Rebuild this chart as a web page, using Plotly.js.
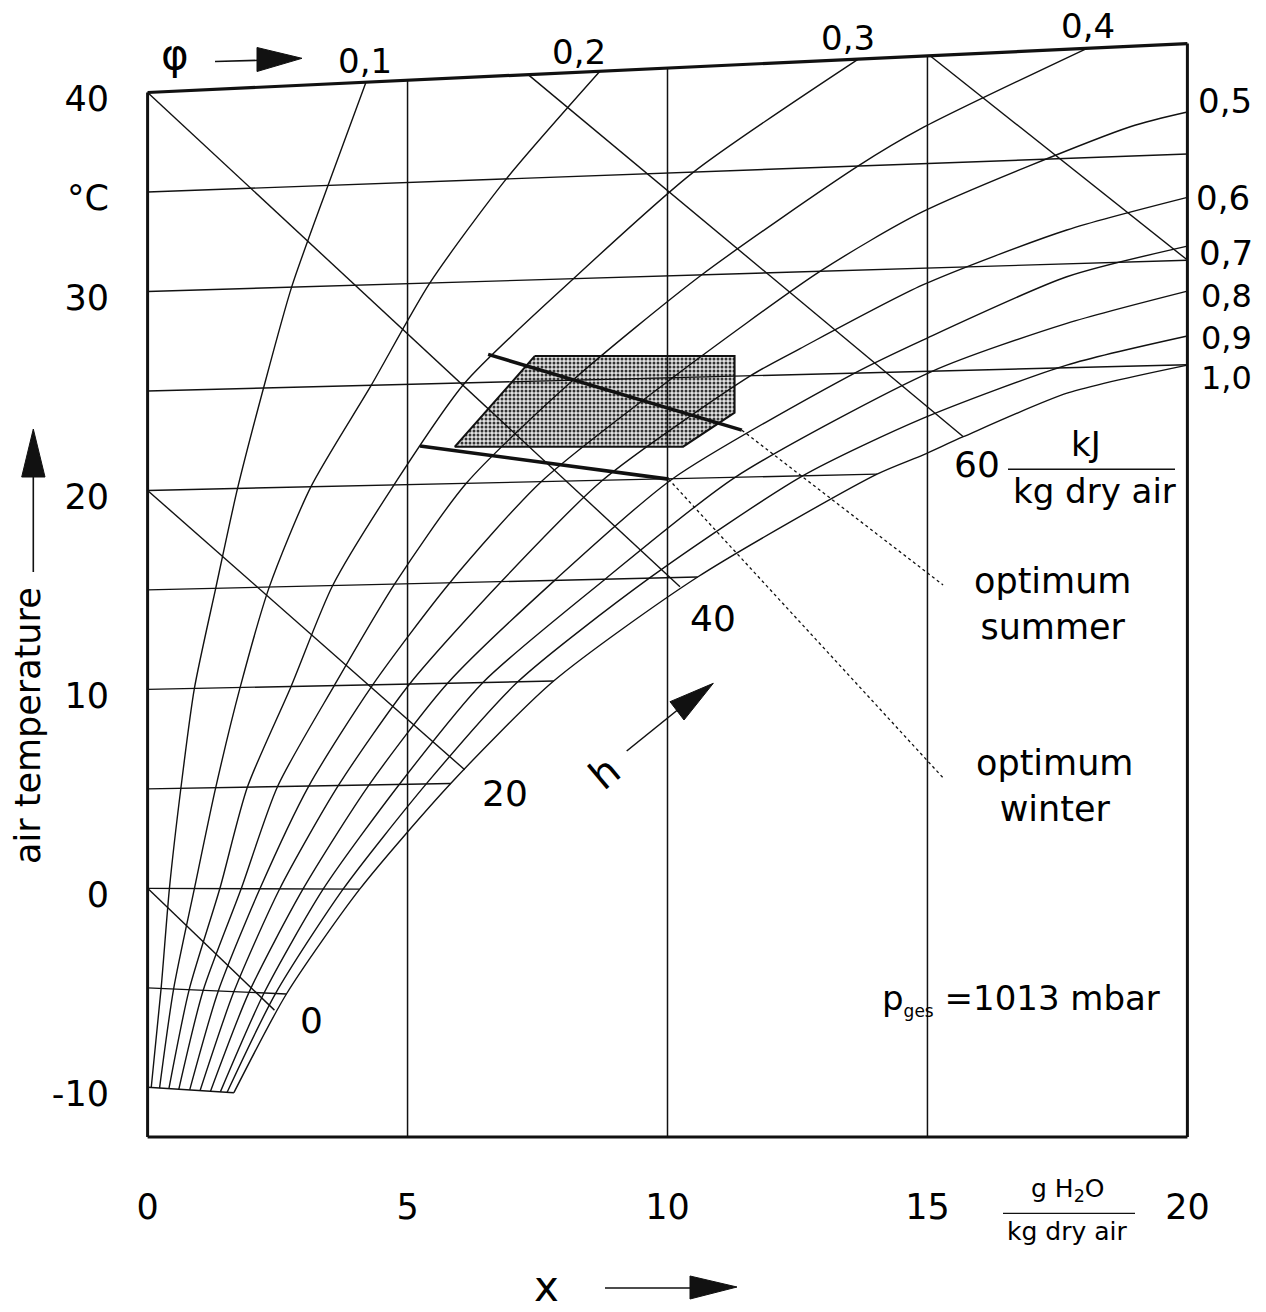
<!DOCTYPE html>
<html><head><meta charset="utf-8">
<script src="https://cdn.plot.ly/plotly-3.0.1.min.js"></script>
<style>html,body{margin:0;padding:0;background:#fff}#chart{width:1266px;height:1312px}</style>
</head><body><div id="chart"></div>
<script>
// ---------- data ----------
const xTickVals = [0, 5, 10, 15, 20];
const xTickText = ['0', '5', '10', '15', '20'];
const yTickVals = [-10, 0, 10, 20, 30, 35, 40];
const yTickText = ['-10', '0', '10', '20', '30', '°C', '40'];

// isotherms: start at (0, T), end (x, y)
const isoT    = [-10, -5, 0, 5, 10, 15, 20, 25, 30, 35, 40];
const isoXEnd = [1.66, 2.67, 4.08, 5.83, 7.81, 10.58, 14.03, 20, 20, 20, 20];
const isoYEnd = [-10.27, -5.31, -0.04, 5.27, 10.42, 15.65, 20.82, 26.32, 31.57, 36.91, 42.46];

// vertical x grid lines and where they meet the 40 °C border
const gridX   = [5, 10, 15];
const gridTop = [40.62, 41.23, 41.85];
const frameBottom = -12.5;

// enthalpy lines h [kJ/kg dry air]
const hVal = [0, 20, 40, 60, 80];
const hX0 = [0, 0, 0, 7.32, 15.05];
const hY0 = [0, 20, 40, 40.9, 41.85];
const hX1 = [2.44, 6.10, 10.24, 15.69, 20];
const hY1 = [-6.12, 5.96, 15.16, 22.70, 31.58];

// relative humidity curves
const phiLabels = ['0,1','0,2','0,3','0,4','0,5','0,6','0,7','0,8','0,9','1,0'];
const phiX = [
  [0.07,0.26,0.42,0.64,0.90,1.31,1.73,2.23,2.77,3.47,4.20],
  [0.23,0.50,0.90,1.31,1.78,2.34,3.14,4.30,5.43,6.90,8.70],
  [0.41,0.80,1.39,1.92,2.76,3.56,4.74,6.10,8.19,10.50,13.67],
  [0.60,1.07,1.80,2.50,3.59,4.75,6.13,8.18,10.66,13.67,14.91,18.07],
  [0.81,1.36,2.16,3.10,4.33,5.81,7.57,10.10,12.94,14.91,18.90,20],
  [1.01,1.66,2.54,3.67,5.04,6.80,8.75,11.60,12.55,14.91,17.68,20],
  [1.21,1.95,2.99,4.26,5.77,7.83,10.10,13.60,14.91,17.68,20],
  [1.40,2.24,3.38,4.84,6.45,8.80,11.30,15.10,17.68,20],
  [1.53,2.46,3.76,5.36,7.12,9.65,12.60,14.91,17.68,20],
  [1.66,2.67,4.08,5.83,7.81,10.58,14.03,14.91,15.69,17.70,20]
];
const phiY = [
  [-10.01,-5.03,0.00,5.03,10.05,15.08,20.10,25.15,30.22,35.33,40.52],
  [-10.04,-5.06,-0.01,5.06,10.10,15.14,20.18,25.28,30.43,35.66,41.07],
  [-10.07,-5.09,-0.01,5.09,10.15,15.22,20.28,25.40,30.64,36.00,41.68],
  [-10.10,-5.12,-0.02,5.12,10.19,15.29,20.36,25.54,30.84,36.31,38.23,42.22],
  [-10.13,-5.16,-0.02,5.14,10.23,15.35,20.44,25.67,31.02,34.01,38.28,39.02],
  [-10.16,-5.19,-0.03,5.17,10.27,15.41,20.51,25.77,27.13,30.33,33.09,34.73],
  [-10.20,-5.23,-0.03,5.20,10.31,15.48,20.59,25.90,27.56,30.74,32.28],
  [-10.23,-5.26,-0.03,5.22,10.35,15.54,20.66,26.00,28.40,30.02],
  [-10.25,-5.29,-0.04,5.25,10.38,15.59,20.73,23.62,26.30,27.76],
  [-10.27,-5.31,-0.04,5.27,10.42,15.65,20.82,21.78,22.70,24.90,26.30]
];

// comfort zone (shaded) and optimum lines
const zoneX = [7.45, 11.29, 11.29, 10.30, 5.91, 7.45];
const zoneY = [26.76, 26.76, 23.91, 22.20, 22.20, 26.76];
const summerX = [6.55, 11.43];
const summerY = [26.84, 23.03];
const winterX = [5.24, 10.02];
const winterY = [22.23, 20.57];
const summerLeaderX = [11.43, 15.30];
const summerLeaderY = [23.03, 15.25];
const winterLeaderX = [10.02, 15.31];
const winterLeaderY = [20.57, 5.53];

// ---------- layout helpers (pixel -> paper, for decorations) ----------
const M = {l: 132, r: 63, t: 1, b: 165};
const W = 1266, H = 1312;
const PW = W - M.l - M.r, PH = H - M.t - M.b;
const PX = p => (p - M.l) / PW;
const PY = p => (H - M.b - p) / PH;
const FONT = 'DejaVu Sans, Liberation Sans, Arial, sans-serif';
const INK = '#111';

const traces = [];
const line = (x, y, w, extra) => Object.assign({
  type: 'scatter', mode: 'lines', x: x, y: y,
  line: {color: INK, width: w},
  hoverinfo: 'skip', showlegend: false
}, extra || {});

// shaded zone first (under the grid)
traces.push({
  type: 'scatter', mode: 'lines', x: zoneX, y: zoneY, fill: 'toself',
  fillcolor: '#cfcfcf',
  fillpattern: {shape: '.', size: 4, solidity: 0.45, fgcolor: '#333', bgcolor: '#e2e2e2'},
  line: {color: INK, width: 2}, hoverinfo: 'skip', showlegend: false
});

// vertical grid lines
gridX.forEach((g, i) => traces.push(line([g, g], [frameBottom, gridTop[i]], 1.5)));
// frame
traces.push(line([0, 0], [frameBottom, 40], 3));
traces.push(line([0, 20], [frameBottom, frameBottom], 3));
traces.push(line([20, 20], [frameBottom, isoYEnd[isoYEnd.length - 1]], 3));
// isotherms
isoT.forEach((t, i) => traces.push(line([0, isoXEnd[i]], [t, isoYEnd[i]], t === 40 ? 3.2 : 1.4)));
// enthalpy lines
hVal.forEach((h, i) => traces.push(line([hX0[i], hX1[i]], [hY0[i], hY1[i]], 1.4)));
// humidity curves
phiLabels.forEach((lab, i) => traces.push(line(phiX[i], phiY[i], 1.4,
  {line: {color: INK, width: 1.4, shape: 'spline', smoothing: 0.7}, name: 'φ=' + lab})));
// optimum lines and dotted leaders
traces.push(line(summerX, summerY, 3.6));
traces.push(line(winterX, winterY, 3.6));
traces.push(line(summerLeaderX, summerLeaderY, 1.3, {line: {color: INK, width: 1.3, dash: 'dot'}}));
traces.push(line(winterLeaderX, winterLeaderY, 1.3, {line: {color: INK, width: 1.3, dash: 'dot'}}));

// ---------- annotations ----------
const ann = [];
const txt = (px, py, text, size, extra) => ann.push(Object.assign({
  xref: 'paper', yref: 'paper', x: PX(px), y: PY(py), text: text, showarrow: false,
  xanchor: 'center', yanchor: 'middle', font: {family: FONT, size: size, color: '#000'}
}, extra || {}));

txt(175, 55, 'φ', 42);
const phiLabelPos = [[365,61],[579,52],[848,38],[1088,26],[1225,101],[1223,198],[1226,253],[1226,296],[1226,338],[1226,378]];
phiLabels.forEach((lab, i) => txt(phiLabelPos[i][0], phiLabelPos[i][1], lab, i >= 7 ? 32 : 34,
  {borderpad: 0}));
txt(311, 1020, String(hVal[0]), 36);
txt(505, 793, String(hVal[1]), 36);
txt(713, 618, String(hVal[2]), 36);
txt(977, 464, String(hVal[3]), 36);
txt(1086, 444, 'kJ', 34);
txt(1094, 491, 'kg dry air', 34);
txt(1052, 604, 'optimum<br>summer', 35);
txt(1054, 786, 'optimum<br>winter', 35);
txt(880, 999, 'p<sub><span style="font-size:17px">ges</span></sub> =1013 mbar', 34, {xanchor: 'left'});
txt(1067, 1190, 'g H<sub>2</sub>O', 25);
txt(1067, 1231, 'kg dry air', 25);
txt(546, 1286, 'x', 42);
txt(604, 773, 'h', 40, {textangle: -40});
txt(28, 726, 'air temperature', 35, {textangle: -90});

// ---------- decorative shapes (arrows, fraction bars) ----------
const shp = [];
const sline = (x0, y0, x1, y1, w) => shp.push({type: 'line', xref: 'paper', yref: 'paper',
  x0: PX(x0), y0: PY(y0), x1: PX(x1), y1: PY(y1), line: {color: INK, width: w}});
const tri = pts => shp.push({type: 'path', xref: 'paper', yref: 'paper',
  path: 'M' + pts.map(p => PX(p[0]) + ',' + PY(p[1])).join(' L') + ' Z',
  fillcolor: INK, line: {color: INK, width: 1}});

sline(215, 61.5, 260, 60.3, 1.6); tri([[302, 58.3], [257, 47.5], [257, 71.5]]);
sline(626.7, 751, 680, 708, 1.6); tri([[713.3, 683.3], [670, 701.7], [684, 720]]);
sline(33.3, 572, 33.3, 474, 1.6); tri([[33.3, 429], [21.7, 477], [45, 477]]);
sline(605, 1288, 692, 1288, 1.6); tri([[737, 1287], [690, 1276], [690, 1299]]);
sline(1008, 469.3, 1175, 469.3, 1.5);
sline(1003, 1213.3, 1135, 1213.3, 1.2);

const layout = {
  width: W, height: H, margin: M,
  paper_bgcolor: '#fff', plot_bgcolor: '#fff',
  showlegend: false,
  xaxis: {range: [-0.3, 20.3], showgrid: false, zeroline: false, showline: false,
    tickmode: 'array', tickvals: xTickVals, ticktext: xTickText, ticks: '', ticklen: 0,
    ticklabelstandoff: 36, tickfont: {family: FONT, size: 35, color: '#000'}, fixedrange: true},
  yaxis: {range: [-13, 44.6], showgrid: false, zeroline: false, showline: false,
    tickmode: 'array', tickvals: yTickVals, ticktext: yTickText, ticks: '', ticklen: 0,
    ticklabelstandoff: 22, ticklabelshift: 6,
    tickfont: {family: FONT, size: 35, color: '#000'}, fixedrange: true},
  annotations: ann,
  shapes: shp
};

Plotly.newPlot('chart', traces, layout, {displayModeBar: false, staticPlot: true});
</script></body></html>
